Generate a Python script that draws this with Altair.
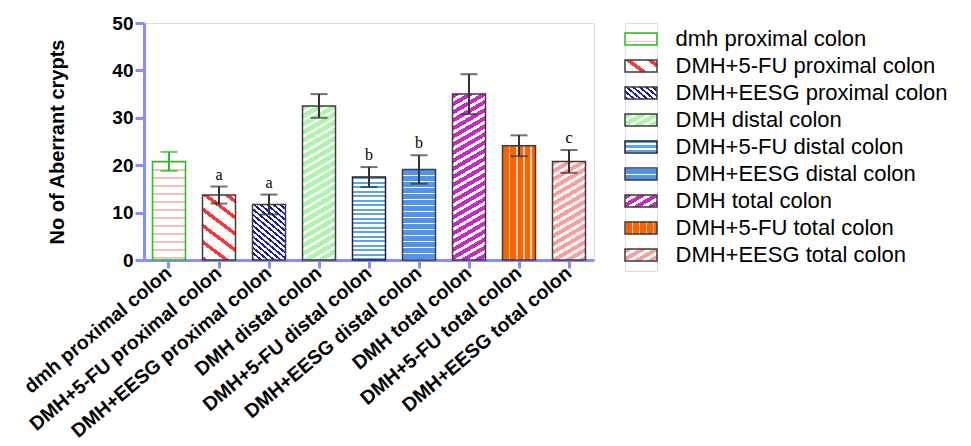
import math
import altair as alt
import pandas as pd

# ---------------- data ----------------
categories = [
    "dmh proximal colon", "DMH+5-FU proximal colon", "DMH+EESG proximal colon",
    "DMH distal colon", "DMH+5-FU distal colon", "DMH+EESG distal colon",
    "DMH total colon", "DMH+5-FU total colon", "DMH+EESG total colon",
]
means = [20.8, 13.7, 11.7, 32.5, 17.5, 19.1, 35.0, 24.1, 20.8]
errors = [2.0, 1.8, 2.1, 2.5, 2.1, 3.0, 4.2, 2.2, 2.4]
letters = ["", "a", "a", "", "b", "b", "", "", "c"]
y_ticks = [0, 10, 20, 30, 40, 50]

df = pd.DataFrame({"cat": categories, "mean": means, "err": errors, "letter": letters})
df["lo"] = df["mean"] - df["err"]
df["hi"] = df["mean"] + df["err"]

# ---------------- styles ----------------
PLOT_W, PLOT_H = 450, 237
Y_MAX = 50
P_IN, P_OUT = 0.34, 0.17
BAR_W = PLOT_W / len(categories) * (1 - P_IN)
AXIS_COL = "#8c8cff"
FONT = "Liberation Sans"


def ang(deg_down):
    # normal of a line family going down-right at deg_down degrees ("\")
    r = math.radians(deg_down)
    return (math.sin(r), -math.cos(r))


def ang_up(deg_up):
    # normal of a line family going up-right at deg_up degrees ("/")
    r = math.radians(deg_up)
    return (math.sin(r), math.cos(r))


patterns = [
    dict(n=(0, 1), bg="#ffffff", fg="#ffbcbc", period=8, width=1.5, stroke="#1fc01f"),
    dict(n=ang(37), bg="#ffffff", fg="#ff3535", period=13, width=3.5, stroke="#3c3c3c"),
    dict(n=ang(40), bg="#ffffff", fg="#1a1aa8", period=4.2, width=1.8, stroke="#3c3c3c"),
    dict(n=ang_up(30), bg="#ffffff", fg="#adf5ad", period=7, width=4.5, stroke="#3c3c3c"),
    dict(n=(0, 1), bg="#ffffff", fg="#5aa3f5", period=4.5, width=2.2, stroke="#222222"),
    dict(n=(0, 1), bg="#4f95ef", fg="#ffffff", period=6, width=1, stroke="#3c3c3c"),
    dict(n=ang_up(30), bg="#ffffff", fg="#c42cc4", period=7, width=4, stroke="#3c3c3c"),
    dict(n=(1, 0), bg="#ff6200", fg="#ffd0b0", period=7, width=1, stroke="#3c3c3c"),
    dict(n=ang_up(30), bg="#ffffff", fg="#ff9c9c", period=7, width=4, stroke="#3c3c3c"),
]


def stripes(w, h, pat):
    a, b = pat["n"]
    corners = [(0, 0), (w, 0), (0, h), (w, h)]
    cs = [a * x + b * y for x, y in corners]
    i0 = min(range(4), key=lambda i: cs[i])
    cmin, cmax = min(cs), max(cs)
    span = cmax - cmin
    k = span / (a * a * w * w + b * b * h * h)
    u0, v0 = corners[i0][0] / w, corners[i0][1] / h
    x2, y2 = u0 + k * a * w, v0 + k * b * h
    bg, fg, P, sw = pat["bg"], pat["fg"], pat["period"], pat["width"]
    raw = [(0.0, bg)]
    m = math.floor(cmin / P)
    while m * P < cmax:
        c0, c1 = m * P, m * P + sw
        t0 = max(0.0, (c0 - cmin) / span)
        t1 = min(1.0, (c1 - cmin) / span)
        if t1 > t0:
            raw += [(t0, bg), (t0, fg), (t1, fg), (t1, bg)]
        m += 1
    raw.append((1.0, bg))
    stops, last = [], 0.0
    for off, col in raw:
        off = max(last, round(off, 5))
        stops.append({"offset": off, "color": col})
        last = off
    return {"gradient": "linear", "x1": round(u0, 5), "y1": round(v0, 5),
            "x2": round(x2, 5), "y2": round(y2, 5), "stops": stops}


# ---------------- main chart ----------------
x_enc = alt.X(
    "cat:N", sort=categories,
    scale=alt.Scale(paddingInner=P_IN, paddingOuter=P_OUT),
    axis=alt.Axis(
        title=None, labelAngle=320, labelAlign="right", labelBaseline="middle",
        labelFont=FONT, labelFontSize=19.5, labelFontWeight="bold", labelColor="black",
        labelPadding=2, labelLimit=0, domainColor=AXIS_COL, domainWidth=3,
        tickColor=AXIS_COL, tickWidth=3, tickSize=8,
    ),
)

y_axis = alt.Axis(
    values=y_ticks, title="No of Aberrant crypts", titleFont=FONT, titleFontSize=20,
    titleFontWeight="bold", titleColor="black", titlePadding=44,
    labelFont=FONT, labelFontSize=19, labelFontWeight="bold", labelColor="black",
    labelPadding=2, tickSize=9, tickWidth=3, tickColor=AXIS_COL,
    domainColor=AXIS_COL, domainWidth=3, grid=False,
)
y_scale = alt.Scale(domain=[0, Y_MAX], nice=False)


def yq(field):
    return alt.Y(f"{field}:Q", scale=y_scale, axis=y_axis)


base = alt.Chart(df)
err_color = alt.condition(alt.datum.cat == categories[0], alt.value("#1fc01f"), alt.value("#333333"))

layers = []
for cat, mean, pat in zip(categories, means, patterns):
    h = mean / Y_MAX * PLOT_H
    layers.append(
        base.transform_filter(alt.datum.cat == cat)
        .mark_bar(fill=stripes(BAR_W, h, pat), stroke=pat["stroke"], strokeWidth=1.5)
        .encode(x=x_enc, y=yq("mean"))
    )

layers.append(base.mark_rule(strokeWidth=2).encode(x=x_enc, y=yq("lo"), y2="hi:Q", color=err_color))
layers.append(base.mark_tick(size=17, thickness=2).encode(x=x_enc, y=yq("hi"), color=err_color))
layers.append(base.mark_tick(size=17, thickness=2).encode(x=x_enc, y=yq("lo"), color=err_color))
layers.append(
    base.transform_filter(alt.datum.letter != "")
    .mark_text(font="Liberation Serif", fontSize=16, baseline="alphabetic", dy=-7, color="black")
    .encode(x=x_enc, y=yq("hi"), text="letter:N")
)

main = alt.layer(*layers).properties(width=PLOT_W, height=PLOT_H)

# ---------------- legend ----------------
LEG_W, LEG_H = 32, 248
L_IN, L_OUT = 0.55, 0.3675
step = LEG_H / (len(categories) - L_IN + 2 * L_OUT)
sw_h = step * (1 - L_IN)

leg_y = alt.Y(
    "cat:N", sort=categories,
    scale=alt.Scale(paddingInner=L_IN, paddingOuter=L_OUT),
    axis=alt.Axis(orient="right", title=None, domain=False, ticks=False,
                  labelFont=FONT, labelFontSize=22, labelColor="black",
                  labelPadding=18, labelLimit=0),
)
leg_layers = []
for cat, pat in zip(categories, patterns):
    leg_layers.append(
        alt.Chart(df).transform_filter(alt.datum.cat == cat)
        .mark_rect(fill=stripes(LEG_W, sw_h, pat), stroke=pat["stroke"], strokeWidth=1.5)
        .encode(y=leg_y)
    )
legend = alt.layer(*leg_layers).properties(width=LEG_W, height=LEG_H)

chart = (
    alt.hconcat(main, legend, spacing=31, bounds="flush",
                padding={"left": 11, "top": 5, "right": 5, "bottom": 5})
    .configure_view(stroke=None)
    .configure(background="white")
)

chart.save("out.html", embed_options={"renderer": "svg", "actions": False})
